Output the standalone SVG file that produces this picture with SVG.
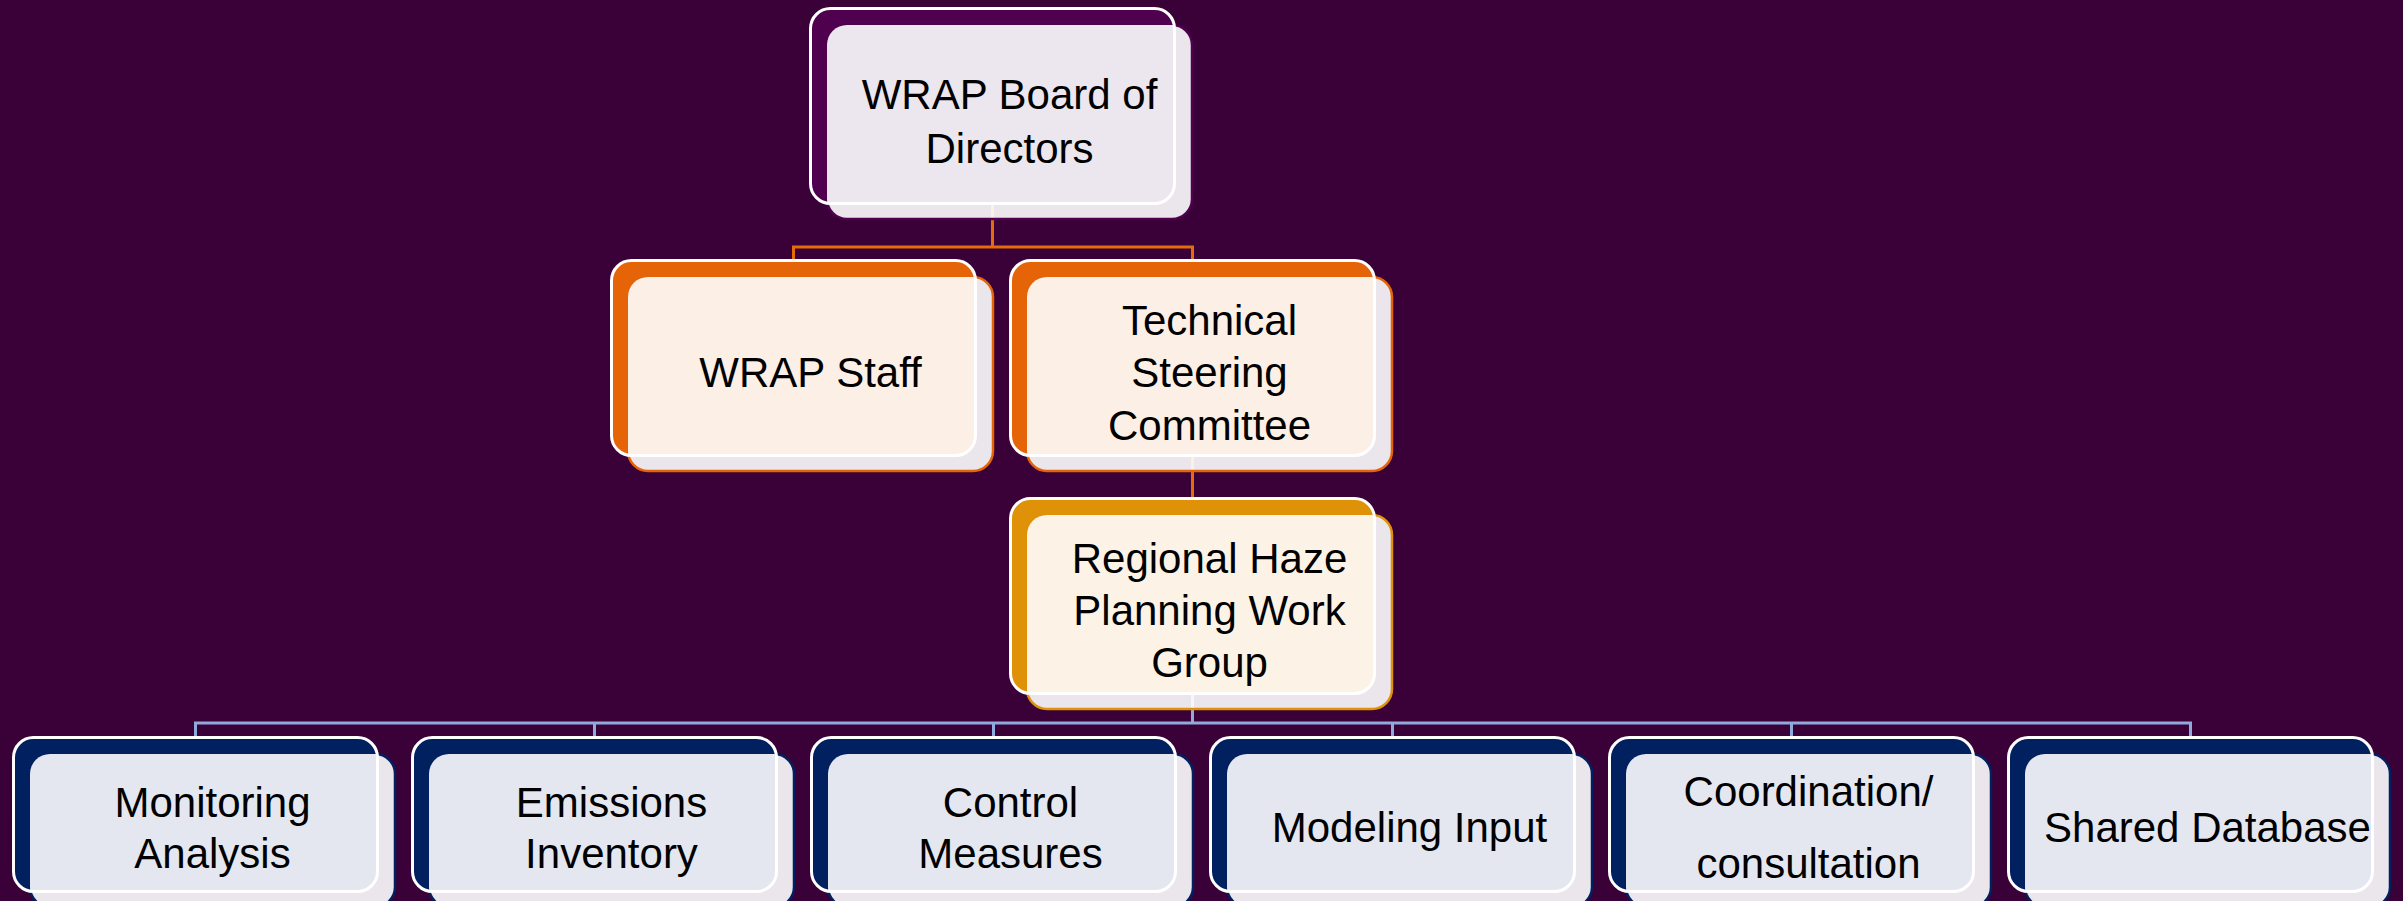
<svg xmlns="http://www.w3.org/2000/svg" width="2403" height="901" viewBox="0 0 2403 901">
<style>
.bk{stroke:none}
.ol{fill:none;stroke:#ffffff;stroke-width:3}
.fr{fill:#ffffff;fill-opacity:0.9;stroke-width:2.5}
.t{font-family:"Liberation Sans",Arial,sans-serif;font-size:42px;fill:#000000;text-anchor:middle}
.l1 .bk{fill:#4f0150}.l1 .fr{stroke:#4f0150}.l1 .tn{fill:#ece6ee}
.l2 .bk{fill:#e46407}.l2 .fr{stroke:#e46407}.l2 .tn{fill:#fcefe6}
.l3 .bk{fill:#df9107}.l3 .fr{stroke:#df9107}.l3 .tn{fill:#fcf3e6}
.l4 .bk{fill:#002060}.l4 .fr{stroke:#002060}.l4 .tn{fill:#e4e7ef}
.c1{fill:none;stroke:#e46c0a;stroke-width:3}
.c2{fill:none;stroke:#8faadc;stroke-width:3}
</style>
<defs>
<clipPath id="k-board"><rect x="810.5" y="8.5" width="364" height="195" rx="20"/></clipPath>
<clipPath id="k-staff"><rect x="611.5" y="260.5" width="364" height="195" rx="20"/></clipPath>
<clipPath id="k-tsc"><rect x="1010.5" y="260.5" width="364" height="195" rx="20"/></clipPath>
<clipPath id="k-rh"><rect x="1010.5" y="498.5" width="364" height="195" rx="20"/></clipPath>
<clipPath id="k-b1"><rect x="13.5" y="737.5" width="364" height="154" rx="20"/></clipPath>
<clipPath id="k-b2"><rect x="412.5" y="737.5" width="364" height="154" rx="20"/></clipPath>
<clipPath id="k-b3"><rect x="811.5" y="737.5" width="364" height="154" rx="20"/></clipPath>
<clipPath id="k-b4"><rect x="1210.5" y="737.5" width="364" height="154" rx="20"/></clipPath>
<clipPath id="k-b5"><rect x="1609.5" y="737.5" width="364" height="154" rx="20"/></clipPath>
<clipPath id="k-b6"><rect x="2008.5" y="737.5" width="364" height="154" rx="20"/></clipPath>
</defs>
<rect x="0" y="0" width="2403" height="901" fill="#3a0038"/>
<g id="connectors">
<path class="c1" d="M992.5 205 V247 M793.5 247 H1192.5 M793.5 245.5 V261 M1192.5 245.5 V261"/>
<path class="c1" d="M1192.5 457 V499"/>
<path class="c2" d="M1192.5 695 V723 M195.5 723 H2190.5 M195.5 721.5 V738 M594.5 721.5 V738 M993.5 721.5 V738 M1392.5 721.5 V738 M1791.5 721.5 V738 M2190.5 721.5 V738"/>
</g>
<g id="board" class="l1">
<rect class="bk" x="810.5" y="8.5" width="364" height="195" rx="20"/>
<rect class="fr" x="827" y="25" width="365" height="194" rx="20"/>
<rect class="tn" x="827" y="25" width="365" height="194" rx="20" clip-path="url(#k-board)"/>
<rect class="ol" x="810.5" y="8.5" width="364" height="195" rx="20"/>
<text class="t" x="1009.5" y="109">WRAP Board of</text>
<text class="t" x="1009.5" y="163">Directors</text>
</g>
<g id="staff" class="l2">
<rect class="bk" x="611.5" y="260.5" width="364" height="195" rx="20"/>
<rect class="fr" x="628" y="277" width="365" height="194" rx="20"/>
<rect class="tn" x="628" y="277" width="365" height="194" rx="20" clip-path="url(#k-staff)"/>
<rect class="ol" x="611.5" y="260.5" width="364" height="195" rx="20"/>
<text class="t" x="810.5" y="387">WRAP Staff</text>
</g>
<g id="tsc" class="l2">
<rect class="bk" x="1010.5" y="260.5" width="364" height="195" rx="20"/>
<rect class="fr" x="1027" y="277" width="365" height="194" rx="20"/>
<rect class="tn" x="1027" y="277" width="365" height="194" rx="20" clip-path="url(#k-tsc)"/>
<rect class="ol" x="1010.5" y="260.5" width="364" height="195" rx="20"/>
<text class="t" x="1209.5" y="335">Technical</text>
<text class="t" x="1209.5" y="387">Steering</text>
<text class="t" x="1209.5" y="440">Committee</text>
</g>
<g id="rhpwg" class="l3">
<rect class="bk" x="1010.5" y="498.5" width="364" height="195" rx="20"/>
<rect class="fr" x="1027" y="515" width="365" height="194" rx="20"/>
<rect class="tn" x="1027" y="515" width="365" height="194" rx="20" clip-path="url(#k-rh)"/>
<rect class="ol" x="1010.5" y="498.5" width="364" height="195" rx="20"/>
<text class="t" x="1209.5" y="573">Regional Haze</text>
<text class="t" x="1209.5" y="625">Planning Work</text>
<text class="t" x="1209.5" y="677">Group</text>
</g>
<g id="monitoring" class="l4">
<rect class="bk" x="13.5" y="737.5" width="364" height="154" rx="20"/>
<rect class="fr" x="30" y="754" width="365" height="153" rx="20"/>
<rect class="tn" x="30" y="754" width="365" height="153" rx="20" clip-path="url(#k-b1)"/>
<rect class="ol" x="13.5" y="737.5" width="364" height="154" rx="20"/>
<text class="t" x="212.5" y="817">Monitoring</text>
<text class="t" x="212.5" y="868">Analysis</text>
</g>
<g id="emissions" class="l4">
<rect class="bk" x="412.5" y="737.5" width="364" height="154" rx="20"/>
<rect class="fr" x="429" y="754" width="365" height="153" rx="20"/>
<rect class="tn" x="429" y="754" width="365" height="153" rx="20" clip-path="url(#k-b2)"/>
<rect class="ol" x="412.5" y="737.5" width="364" height="154" rx="20"/>
<text class="t" x="611.5" y="817">Emissions</text>
<text class="t" x="611.5" y="868">Inventory</text>
</g>
<g id="control" class="l4">
<rect class="bk" x="811.5" y="737.5" width="364" height="154" rx="20"/>
<rect class="fr" x="828" y="754" width="365" height="153" rx="20"/>
<rect class="tn" x="828" y="754" width="365" height="153" rx="20" clip-path="url(#k-b3)"/>
<rect class="ol" x="811.5" y="737.5" width="364" height="154" rx="20"/>
<text class="t" x="1010.5" y="817">Control</text>
<text class="t" x="1010.5" y="868">Measures</text>
</g>
<g id="modeling" class="l4">
<rect class="bk" x="1210.5" y="737.5" width="364" height="154" rx="20"/>
<rect class="fr" x="1227" y="754" width="365" height="153" rx="20"/>
<rect class="tn" x="1227" y="754" width="365" height="153" rx="20" clip-path="url(#k-b4)"/>
<rect class="ol" x="1210.5" y="737.5" width="364" height="154" rx="20"/>
<text class="t" x="1409.5" y="842">Modeling Input</text>
</g>
<g id="coordination" class="l4">
<rect class="bk" x="1609.5" y="737.5" width="364" height="154" rx="20"/>
<rect class="fr" x="1626" y="754" width="365" height="153" rx="20"/>
<rect class="tn" x="1626" y="754" width="365" height="153" rx="20" clip-path="url(#k-b5)"/>
<rect class="ol" x="1609.5" y="737.5" width="364" height="154" rx="20"/>
<text class="t" x="1808.5" y="806">Coordination/</text>
<text class="t" x="1808.5" y="878">consultation</text>
</g>
<g id="database" class="l4">
<rect class="bk" x="2008.5" y="737.5" width="364" height="154" rx="20"/>
<rect class="fr" x="2025" y="754" width="365" height="153" rx="20"/>
<rect class="tn" x="2025" y="754" width="365" height="153" rx="20" clip-path="url(#k-b6)"/>
<rect class="ol" x="2008.5" y="737.5" width="364" height="154" rx="20"/>
<text class="t" x="2207.5" y="842">Shared Database</text>
</g>
</svg>
